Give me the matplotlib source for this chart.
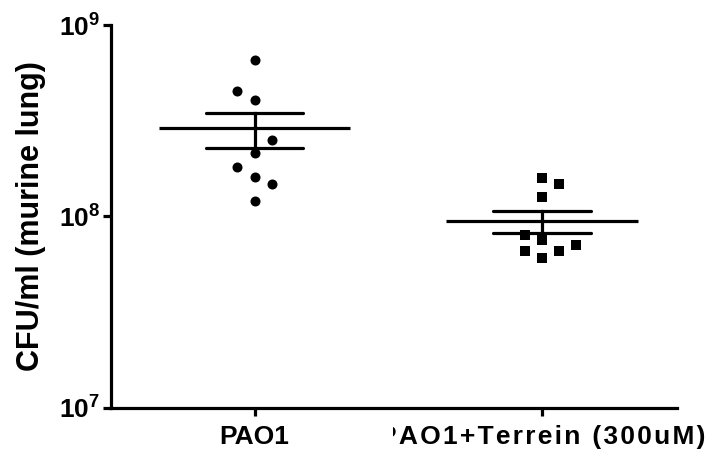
import matplotlib
matplotlib.use("Agg")
import matplotlib.pyplot as plt
from matplotlib.transforms import Bbox
import numpy as np

plt.rcParams['font.family'] = ['Liberation Sans', 'DejaVu Sans']
plt.rcParams['font.weight'] = 'bold'
plt.rcParams['mathtext.fontset'] = 'custom'
plt.rcParams['mathtext.rm'] = 'Liberation Sans:bold'
plt.rcParams['mathtext.bf'] = 'Liberation Sans:bold'
plt.rcParams['mathtext.it'] = 'Liberation Sans:bold'

# data (CFU/ml)
groups = ['PAO1', 'PAO1+Terrein (300uM)']
pao1 = [6.58e8, 4.53e8, 4.06e8, 2.52e8, 2.15e8, 1.82e8, 1.61e8, 1.47e8, 1.21e8]
terrein = [1.58e8, 1.47e8, 1.27e8, 8.05e7, 7.50e7, 6.58e7, 6.04e7, 6.58e7, 7.06e7]
# horizontal scatter slots (layout only)
pao1_slot = [0, -1, 0, 1, 0, -1, 0, 1, 0]
terrein_slot = [0, 1, 0, -1, 0, -1, 0, 1, 2]
yticks = [1e7, 1e8, 1e9]
ytick_labels = ['$10^{7}$', '$10^{8}$', '$10^{9}$']

fig = plt.figure(figsize=(7.12, 4.58), dpi=100)
ax = fig.add_axes([0.1559, 0.1092, 0.7949, 0.8362])

lw = 2.3
markers = ['o', 's']
for i, (vals, slots) in enumerate([(pao1, pao1_slot), (terrein, terrein_slot)]):
    vals = np.array(vals)
    xs = i + 0.06 * np.array(slots)
    ax.scatter(xs, vals, marker=markers[i], s=52, color='black', zorder=3,
               linewidths=0)
    mean = vals.mean()
    sem = vals.std(ddof=1) / np.sqrt(len(vals))
    ax.plot([i - 0.333, i + 0.333], [mean, mean], color='black', lw=lw,
            solid_capstyle='butt')
    ax.plot([i - 0.17, i + 0.17], [mean + sem, mean + sem], color='black', lw=lw,
            solid_capstyle='round')
    ax.plot([i - 0.17, i + 0.17], [mean - sem, mean - sem], color='black', lw=lw,
            solid_capstyle='round')
    ax.plot([i, i], [mean - sem, mean + sem], color='black', lw=lw)

ax.set_yscale('log')
ax.set_ylim(1e7, 1e9)
ax.set_xlim(-0.5, 1.47)
ax.set_yticks(yticks)
ax.set_yticklabels(ytick_labels)
ax.minorticks_off()
ax.set_xticks([0, 1])
# the original spaces its letters wider; hair spaces imitate that
spaced = [groups[0], '\u200a'.join(groups[1])]
ax.set_xticklabels(spaced, fontsize=19, fontweight='bold')

# second label runs past the figure and is clipped at its left edge
lab2 = ax.get_xticklabels()[1]
lab2.set_x(1.065)
lab2.set_clip_on(True)
lab2.set_clip_box(Bbox.from_extents(393, 0, 712, 60))

for side in ['top', 'right']:
    ax.spines[side].set_visible(False)
for side in ['left', 'bottom']:
    ax.spines[side].set_linewidth(2.3)
ax.tick_params(axis='both', length=6, width=2.3, direction='out')
ax.tick_params(axis='y', labelsize=19, pad=2)
ax.tick_params(axis='x', pad=6)

ax.set_ylabel('CFU/ml (murine lung)', fontsize=22, fontweight='bold', labelpad=9)

fig.savefig('out.png', dpi=100)
